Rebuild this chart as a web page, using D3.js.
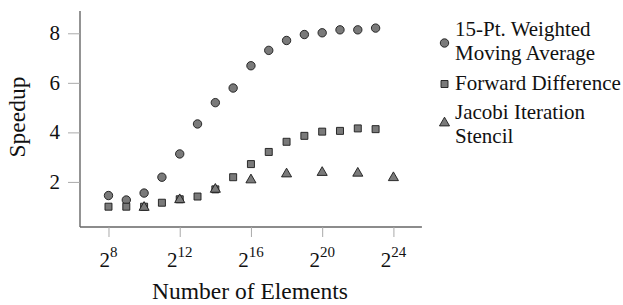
<!DOCTYPE html>
<html><head><meta charset="utf-8">
<script src="https://cdn.jsdelivr.net/npm/d3@7"></script>
</head><body style="margin:0">
<svg id="c" width="623" height="305"></svg>
<script>
const movingAvgX = [8,9,10,11,12,13,14,15,16,17,18,19,20,21,22,23];
const movingAvgY = [1.45,1.27,1.55,2.19,3.13,4.34,5.2,5.79,6.69,7.31,7.71,7.95,8.02,8.14,8.14,8.21];
const fwdDiffX = [8,9,10,11,12,13,14,15,16,17,18,19,20,21,22,23];
const fwdDiffY = [1.0,1.0,1.0,1.16,1.30,1.41,1.70,2.19,2.72,3.21,3.62,3.86,4.03,4.06,4.16,4.13];
const jacobiX = [10,12,14,16,18,20,22,24];
const jacobiY = [0.97,1.28,1.70,2.08,2.32,2.38,2.35,2.17];
const xTickExps = [8,12,16,20,24];
const yTicks = [2,4,6,8];
const legendLabels = [["15-Pt. Weighted","Moving Average"],["Forward Difference"],["Jacobi Iteration","Stencil"]];

const svg = d3.select("#c");
const x = d3.scaleLinear().domain([6.4,25.6]).range([80,421.9]);
const y = d3.scaleLinear().domain([0.18,8.9]).range([227,11]);
const fam = "Liberation Serif";
const fill = "#7a7a7a", stroke = "#1a1a1a";

const axG = svg.append("g");
const xAxis = axG.append("g").attr("transform","translate(0,227)")
  .call(d3.axisBottom(x).tickValues(xTickExps).tickSize(10).tickFormat(""));
const yAxis = axG.append("g").attr("transform","translate(80,0)")
  .call(d3.axisLeft(y).tickValues(yTicks).tickSize(12).tickFormat(""));
[xAxis,yAxis].forEach(a=>{
  a.attr("font-family",null).attr("font-size",null);
  a.select(".domain").attr("stroke","#666").attr("stroke-width",1.4);
  a.selectAll(".tick line").attr("stroke","#aaa").attr("stroke-width",1);
});
xAxis.select(".domain").attr("d","M80,0H421.9");
yAxis.select(".domain").attr("d","M0,11V227");

xTickExps.forEach(e=>{
  const t = svg.append("text").attr("x",x(e)).attr("y",267).attr("text-anchor","middle")
    .attr("font-family",fam).attr("font-size",21).attr("fill","#111");
  t.append("tspan").text("2");
  t.append("tspan").attr("dy",-10).attr("font-size",15).text(e);
});
yTicks.forEach(v=>{
  svg.append("text").attr("x",60).attr("y",y(v)+7).attr("text-anchor","end")
    .attr("font-family",fam).attr("font-size",21).attr("fill","#111").text(v);
});
svg.append("text").attr("x",250).attr("y",299).attr("text-anchor","middle")
  .attr("font-family",fam).attr("font-size",23.5).attr("fill","#111").text("Number of Elements");
svg.append("text").attr("transform","translate(25,117) rotate(-90)").attr("text-anchor","middle")
  .attr("font-family",fam).attr("font-size",23.5).attr("fill","#111").text("Speedup");

const circ = d3.symbol().type(d3.symbolCircle).size(Math.PI*4.2*4.2);
const sq = d3.symbol().type(d3.symbolSquare).size(7*7);
const tri = d3.symbol().type(d3.symbolTriangle).size(44);

svg.append("g").selectAll("path").data(movingAvgX.map((v,i)=>[v,movingAvgY[i]])).join("path")
  .attr("d",circ).attr("transform",d=>`translate(${x(d[0])},${y(d[1])})`)
  .attr("fill",fill).attr("stroke",stroke).attr("stroke-width",0.9);
svg.append("g").selectAll("path").data(fwdDiffX.map((v,i)=>[v,fwdDiffY[i]])).join("path")
  .attr("d",sq).attr("transform",d=>`translate(${x(d[0])},${y(d[1])})`)
  .attr("fill",fill).attr("stroke",stroke).attr("stroke-width",0.9);
svg.append("g").selectAll("path").data(jacobiX.map((v,i)=>[v,jacobiY[i]])).join("path")
  .attr("d",tri).attr("transform",d=>`translate(${x(d[0])},${y(d[1])})`)
  .attr("fill",fill).attr("stroke",stroke).attr("stroke-width",0.9);

const syms = [circ, sq, tri];
const markerY = [43, 84, 123];
const lineY = [[36,60],[90],[119,143]];
legendLabels.forEach((lines,i)=>{
  svg.append("path").attr("d",syms[i]).attr("transform",`translate(444.5,${markerY[i]})`)
    .attr("fill",fill).attr("stroke",stroke).attr("stroke-width",0.9);
  lines.forEach((s,j)=>{
    svg.append("text").attr("x",455).attr("y",lineY[i][j]).attr("font-family",fam)
      .attr("font-size",21).attr("fill","#111").text(s);
  });
});
// force synchronous text layout so the serif face is resolved before capture
let _w = 0;
svg.selectAll("text").each(function(){ _w += this.getComputedTextLength(); });
</script>
</body></html>
